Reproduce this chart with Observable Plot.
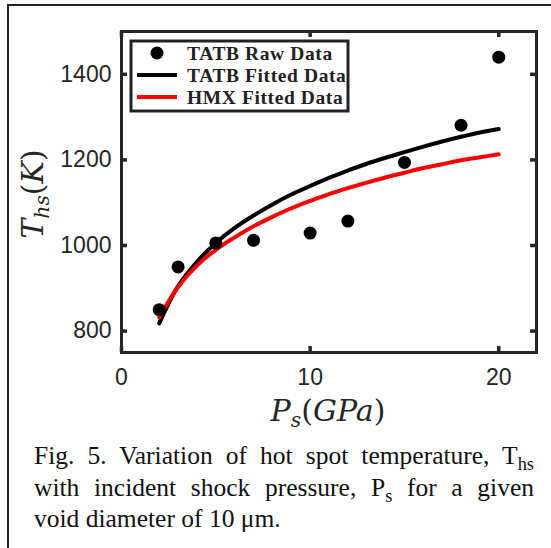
<!DOCTYPE html>
<html>
<head>
<meta charset="utf-8">
<script src="https://cdn.jsdelivr.net/npm/d3@7"></script>
<script src="https://cdn.jsdelivr.net/npm/@observablehq/plot@0.6"></script>
<style>
  html, body { margin: 0; padding: 0; background: #fff; overflow: hidden; }
  #wrap { position: relative; width: 551px; height: 548px; overflow: hidden; background: #fff; }
  #border { position: absolute; left: 7px; top: 4px; width: 600px; height: 600px;
            border-left: 2px solid #222; border-top: 2px solid #222; box-sizing: border-box; }
  #chart { position: absolute; left: 0; top: 0; }
  .lab { position: absolute; font-family: "DejaVu Serif", serif; color: #262626; white-space: nowrap; text-align: center; }
  .lab i { font-style: italic; }
  .lab sub { font-size: 0.68em; line-height: 0; vertical-align: -0.3em; font-style: italic; }
  #ylab { left: -67px; top: 174px; width: 200px; height: 40px; line-height: 40px; font-size: 30px; transform: rotate(-90deg); }
  #xlab { left: 228px; top: 391px; width: 200px; height: 40px; line-height: 40px; font-size: 30px; }
  #legend { position: absolute; left: 0; top: 0; }
  .cap { position: absolute; left: 34px; width: 500px; font-family: "Liberation Serif", "Times New Roman", serif;
         font-size: 25.5px; line-height: 31.5px; color: #111; text-align: justify; text-align-last: justify; white-space: nowrap; }
  .cap.last { text-align: left; text-align-last: left; }
  .cap sub { font-size: 0.72em; line-height: 0; vertical-align: -0.3em; }
</style>
</head>
<body>
<div id="wrap">
  <div id="border"></div>
  <div id="chart"></div>
  <div class="lab" id="ylab"><i>T</i><sub>hs</sub>(<i>K</i>)</div>
  <div class="lab" id="xlab"><i>P</i><sub>s</sub>(<i>GPa</i>)</div>
  <svg id="legend" width="551" height="548"></svg>
  <div class="cap" style="top:440px;">Fig. 5. Variation of hot spot temperature, T<sub>hs</sub></div>
  <div class="cap" style="top:471.5px;">with incident shock pressure, P<sub>s</sub> for a given</div>
  <div class="cap last" style="top:503px;">void diameter of 10 μm.</div>
</div>
<script>
// ---- data ----
const rawP = [2, 3, 5, 7, 10, 12, 15, 18, 20];
const rawT = [850, 950, 1006, 1012, 1029, 1057, 1194, 1281, 1440];

const fitP = [2, 3, 4, 5, 6, 7, 8, 9, 10, 11, 12, 13, 14, 15, 16, 17, 18, 19, 20];
const tatbFitT = [818, 905, 962, 1006, 1041, 1070, 1096, 1119, 1139, 1158, 1175, 1191, 1205, 1218, 1231, 1243, 1254, 1264, 1272];
const hmxFitT  = [832, 903, 953, 990, 1019, 1045, 1067, 1087, 1104, 1120, 1134, 1147, 1159, 1170, 1181, 1190, 1199, 1206, 1213];

const xTicks = [0, 10, 20];
const yTicks = [800, 1000, 1200, 1400];
const seriesNames = ["TATB Raw Data", "TATB Fitted Data", "HMX Fitted Data"];
const seriesColors = ["#000000", "#000000", "#ff0000"];

// ---- tables ----
const raw = rawP.map((p, i) => ({P: p, T: rawT[i]}));
const tatbFit = fitP.map((p, i) => ({P: p, T: tatbFitT[i]}));
const hmxFit = fitP.map((p, i) => ({P: p, T: hmxFitT[i]}));

const W = 551, H = 440, mL = 121, mR = 15, mT = 31, mB = 88;
const innerW = W - mL - mR, innerH = H - mT - mB;
const tickLen = 6;
const axisColor = "#262626";

const plot = Plot.plot({
  width: W,
  height: H,
  marginLeft: mL,
  marginRight: mR,
  marginTop: mT,
  marginBottom: mB,
  x: {domain: [0, 22]},
  y: {domain: [750, 1500]},
  style: {fontFamily: "'Liberation Sans', Arial, sans-serif", fontSize: "23px", color: axisColor, background: "transparent", overflow: "visible"},
  marks: [
    Plot.line(tatbFit, {x: "P", y: "T", stroke: seriesColors[1], strokeWidth: 4, curve: "catmull-rom"}),
    Plot.line(hmxFit, {x: "P", y: "T", stroke: seriesColors[2], strokeWidth: 4, curve: "catmull-rom"}),
    Plot.dot(raw, {x: "P", y: "T", r: 6.5, fill: seriesColors[0], stroke: null}),
    Plot.frame({stroke: axisColor, strokeWidth: 3}),
    // inward ticks on all four sides
    Plot.tickX(xTicks, {x: d => d, insetTop: innerH - tickLen, stroke: axisColor, strokeWidth: 3.5}),
    Plot.tickX(xTicks, {x: d => d, insetBottom: innerH - tickLen, stroke: axisColor, strokeWidth: 3.5}),
    Plot.tickY(yTicks, {y: d => d, insetRight: innerW - tickLen, stroke: axisColor, strokeWidth: 3.5}),
    Plot.tickY(yTicks, {y: d => d, insetLeft: innerW - tickLen, stroke: axisColor, strokeWidth: 3.5}),
    Plot.axisX(xTicks, {anchor: "bottom", tickSize: 0, tickPadding: 16, label: null, fill: axisColor, tickFormat: d => String(d)}),
    Plot.axisY(yTicks, {anchor: "left", tickSize: 0, tickPadding: 10, label: null, fill: axisColor, tickFormat: d => String(d)})
  ]
});
document.getElementById("chart").appendChild(plot);

// ---- legend (drawn in an overlay) ----
const lg = d3.select("#legend");
const box = {x: 131, y: 41, w: 217, h: 70};
lg.append("rect").attr("x", box.x).attr("y", box.y).attr("width", box.w).attr("height", box.h)
  .attr("fill", "#fff").attr("stroke", "#222").attr("stroke-width", 3);
seriesNames.forEach((name, i) => {
  const cy = box.y + 12 + i * 22;
  if (i === 0) {
    lg.append("circle").attr("cx", 157).attr("cy", cy).attr("r", 6.5).attr("fill", seriesColors[i]);
  } else {
    lg.append("line").attr("x1", 137).attr("x2", 177).attr("y1", cy).attr("y2", cy)
      .attr("stroke", seriesColors[i]).attr("stroke-width", 4);
  }
  lg.append("text").attr("x", 187).attr("y", cy).attr("dy", "0.35em")
    .attr("font-family", "'Liberation Serif', 'Times New Roman', serif").attr("font-weight", "bold")
    .attr("font-size", 19.5).attr("letter-spacing", 0.6).attr("fill", "#222").text(name);
});
</script>
</body>
</html>
